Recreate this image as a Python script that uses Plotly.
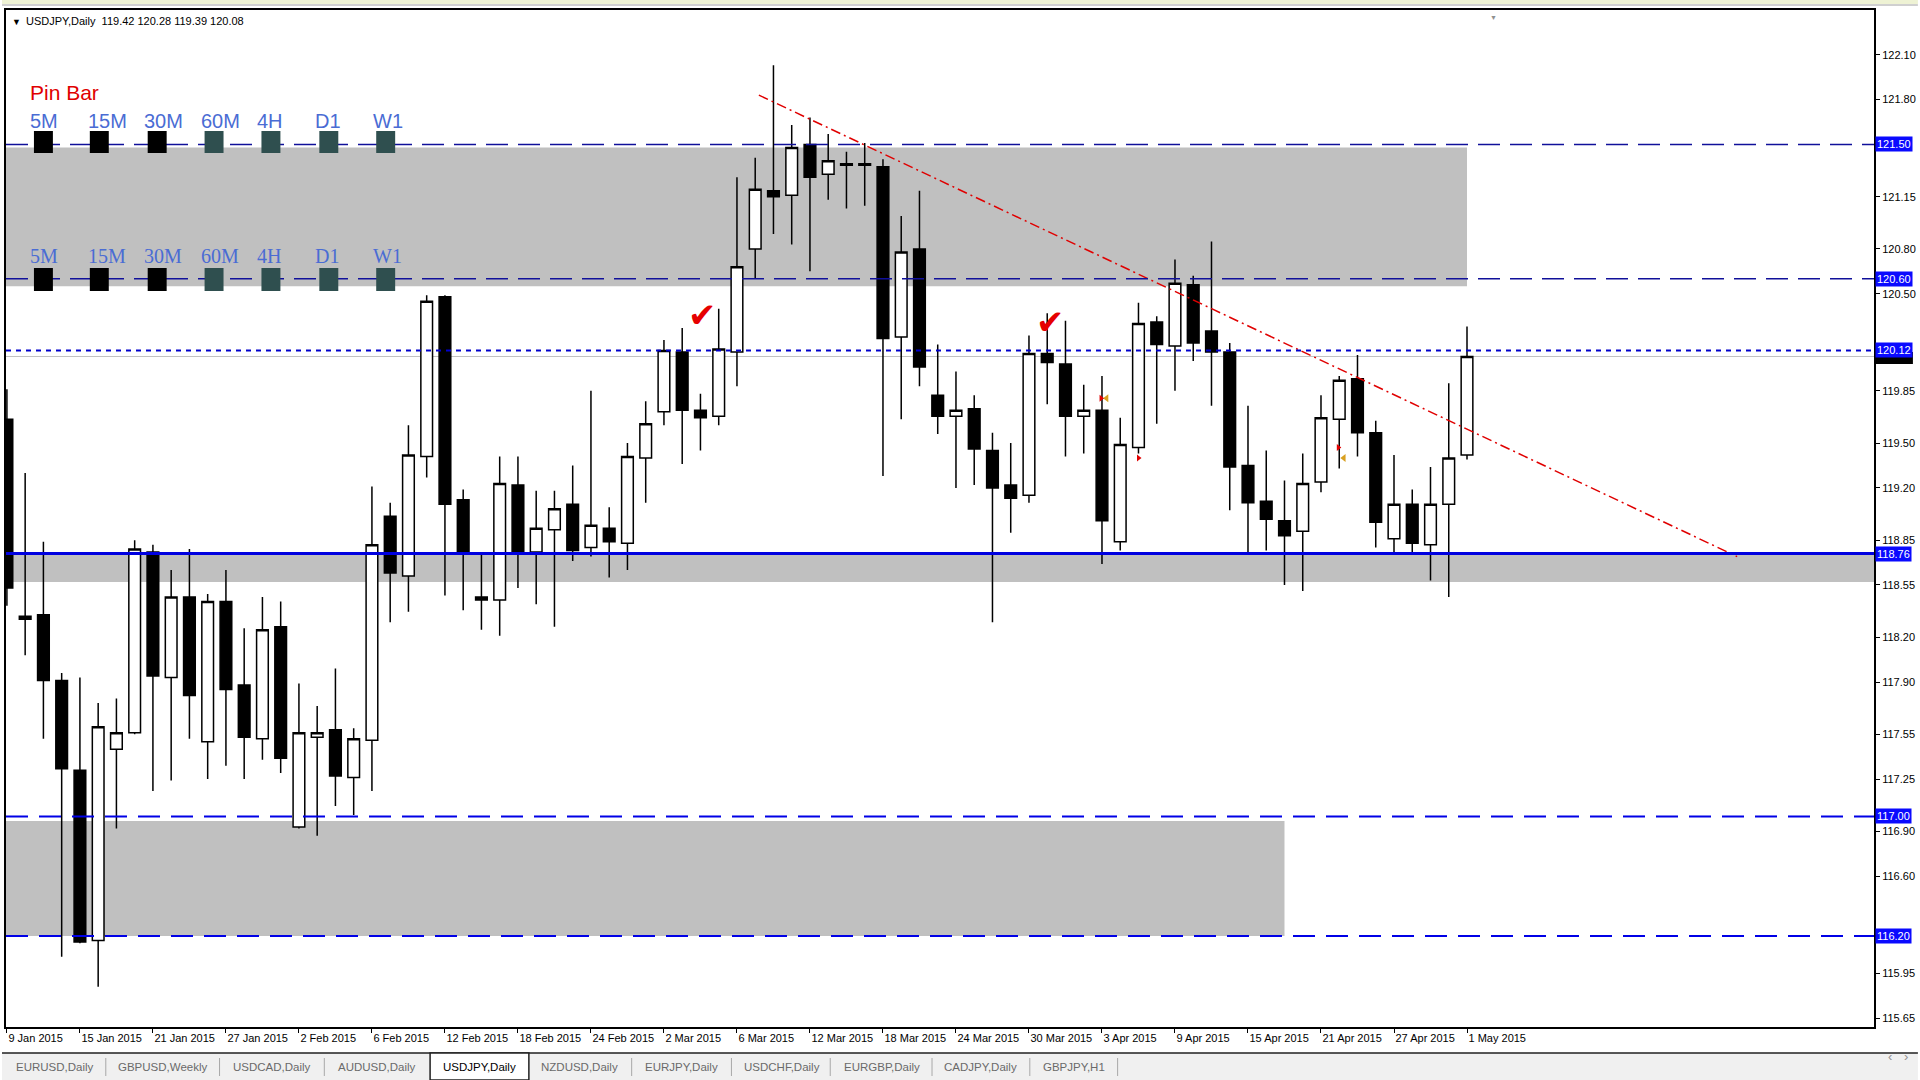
import plotly.graph_objects as go
import pandas as pd

# ---------------- data ----------------
dates = pd.bdate_range("2015-01-09", "2015-05-01")
date_labels = [f"{d.day} {d.strftime('%b %Y')}" for d in dates]

opens = [119.66, 118.34, 118.35, 117.91, 117.31, 116.17, 117.45, 117.56, 118.77, 117.93,
         118.47, 117.50, 118.44, 117.88, 117.52, 118.27, 116.93, 117.53, 117.58, 117.26,
         117.51, 119.01, 118.61, 119.41, 120.48, 119.12, 118.47, 118.45, 119.22, 118.77,
         118.92, 119.09, 118.80, 118.93, 118.83, 119.40, 119.71, 120.11, 119.72, 119.68,
         120.11, 120.80, 121.19, 121.16, 121.50, 121.30, 121.37, 121.37, 121.35, 120.21,
         120.80, 119.82, 119.68, 119.73, 119.45, 119.22, 119.15, 120.10, 120.03, 119.68,
         119.72, 118.84, 119.47, 120.31, 120.15, 120.56, 120.25, 120.11, 119.35, 119.11,
         118.98, 118.91, 119.24, 119.66, 119.93, 119.57, 118.86, 119.09, 118.82, 119.09,
         119.42]
highs = [119.86, 119.30, 118.84, 117.96, 117.93, 117.76, 117.79, 118.85, 118.82, 118.65,
         118.79, 118.49, 118.65, 118.26, 118.47, 118.44, 117.89, 117.74, 117.99, 117.59,
         119.21, 119.10, 119.62, 120.49, 120.49, 119.19, 118.76, 119.41, 119.41, 119.18,
         119.18, 119.35, 119.85, 119.07, 119.50, 119.78, 120.19, 120.27, 119.83, 120.40,
         121.28, 121.41, 122.03, 121.63, 121.68, 121.57, 121.45, 121.51, 121.40, 121.02,
         121.19, 120.16, 119.98, 119.82, 119.57, 119.50, 120.22, 120.37, 120.32, 119.89,
         119.95, 119.67, 120.44, 120.35, 120.73, 120.62, 120.85, 120.17, 119.75, 119.45,
         119.25, 119.43, 119.82, 119.95, 120.09, 119.65, 119.42, 119.19, 119.34, 119.90,
         120.28]
lows = [118.41, 118.08, 117.52, 116.06, 116.15, 115.86, 116.92, 117.55, 117.17, 117.24,
        117.52, 117.25, 117.34, 117.25, 117.38, 117.29, 116.92, 116.87, 117.07, 117.01,
        117.17, 118.30, 118.37, 119.27, 118.48, 118.38, 118.25, 118.21, 118.53, 118.42,
        118.27, 118.71, 118.74, 118.60, 118.65, 119.10, 119.62, 119.36, 119.45, 119.62,
        119.88, 120.60, 120.90, 120.83, 120.65, 121.13, 121.07, 121.09, 119.28, 119.66,
        119.88, 119.56, 119.20, 119.22, 118.30, 118.90, 119.10, 119.76, 119.41, 119.43,
        118.69, 118.78, 119.43, 119.63, 119.85, 120.05, 119.75, 119.05, 118.76, 118.78,
        118.55, 118.51, 119.17, 119.33, 119.41, 118.80, 118.76, 118.76, 118.58, 118.47,
        119.39]
closes = [118.53, 118.32, 117.91, 117.32, 116.16, 117.60, 117.56, 118.79, 117.94, 118.47,
          117.81, 118.44, 117.85, 117.53, 118.25, 117.39, 117.56, 117.56, 117.27, 117.52,
          118.82, 118.63, 119.42, 120.45, 119.09, 118.77, 118.45, 119.23, 118.76, 118.93,
          119.06, 118.78, 118.95, 118.84, 119.41, 119.63, 120.12, 119.72, 119.67, 120.13,
          120.68, 121.20, 121.15, 121.48, 121.28, 121.39, 121.36, 121.36, 120.20, 120.78,
          120.01, 119.68, 119.72, 119.46, 119.20, 119.13, 120.10, 120.04, 119.68, 119.72,
          118.98, 119.49, 120.30, 120.16, 120.57, 120.17, 120.11, 119.34, 119.10, 118.99,
          118.88, 119.23, 119.67, 119.92, 119.57, 118.97, 119.09, 118.83, 119.09, 119.40,
          120.08]

tick_dates = ["9 Jan 2015", "15 Jan 2015", "21 Jan 2015", "27 Jan 2015", "2 Feb 2015",
              "6 Feb 2015", "12 Feb 2015", "18 Feb 2015", "24 Feb 2015", "2 Mar 2015",
              "6 Mar 2015", "12 Mar 2015", "18 Mar 2015", "24 Mar 2015", "30 Mar 2015",
              "3 Apr 2015", "9 Apr 2015", "15 Apr 2015", "21 Apr 2015", "27 Apr 2015",
              "1 May 2015"]
price_ticks = [122.10, 121.80, 121.15, 120.80, 120.50, 119.85, 119.50,
               119.20, 118.85, 118.55, 118.20, 117.90, 117.55, 117.25, 116.90, 116.60,
               115.95, 115.65]

# horizontal levels drawn on the chart
level_prices = [121.50, 120.60, 120.12, 118.76, 117.00, 116.20]
bid_price = 120.08

# shaded zones (top price, bottom price, last bar covered)
zone_tops = [121.48, 118.76, 116.97]
zone_bottoms = [120.55, 118.57, 116.20]
zone_end_bars = [80.0, 200.0, 70.0]

# red trend line anchors (bar position, price)
trend_bars = [41.2, 94.8]
trend_prices = [121.83, 118.74]

# red check marks (bar position, price)
check_bars = [38.1, 57.2]
check_prices = [120.36, 120.31]

# small signal arrows
sig_orange_bars = [60.25, 73.25]
sig_orange_prices = [119.80, 119.40]
sig_red_bars = [59.95, 72.95, 62.0]
sig_red_prices = [119.80, 119.47, 119.40]

tf_labels = ["5M", "15M", "30M", "60M", "4H", "D1", "W1"]
tabs = ["EURUSD,Daily", "GBPUSD,Weekly", "USDCAD,Daily", "AUDUSD,Daily", "USDJPY,Daily",
        "NZDUSD,Daily", "EURJPY,Daily", "USDCHF,Daily", "EURGBP,Daily", "CADJPY,Daily",
        "GBPJPY,H1"]
active_tab = "USDJPY,Daily"

# ---------------- layout helpers ----------------
W, H = 1920, 1080
PL, PR, PT, PB = 4, 1876, 10, 1027
SANS = "Liberation Sans, Arial, sans-serif"
SERIF = "Liberation Serif, Times New Roman, serif"


def fx(x):
    return (x - PL) / (PR - PL)


def fy(y):
    return 1 - (y - PT) / (PB - PT)


xs = list(range(len(dates)))
tickvals = [date_labels.index(t) for t in tick_dates]

fig = go.Figure()
fig.add_trace(go.Candlestick(
    x=xs, open=opens, high=highs, low=lows, close=closes,
    increasing=dict(line=dict(color="black", width=1.5), fillcolor="white"),
    decreasing=dict(line=dict(color="black", width=1.5), fillcolor="black"),
    whiskerwidth=0, showlegend=False, hoverinfo="skip",
))
fig.add_trace(go.Scatter(
    x=trend_bars, y=trend_prices, mode="lines",
    line=dict(color="#e00000", width=1.5, dash="10px,4px,2px,4px"),
    showlegend=False, hoverinfo="skip",
))
fig.add_trace(go.Scatter(
    x=sig_orange_bars, y=sig_orange_prices, mode="markers",
    marker=dict(symbol="triangle-left", size=7, color="#d9a020"),
    showlegend=False, hoverinfo="skip",
))
fig.add_trace(go.Scatter(
    x=sig_red_bars, y=sig_red_prices, mode="markers",
    marker=dict(symbol="triangle-right", size=6, color="#e00000"),
    showlegend=False, hoverinfo="skip",
))

shapes = []
# window strip at top
shapes.append(dict(type="rect", xref="paper", yref="paper", x0=fx(0), x1=fx(W),
                   y0=fy(0), y1=fy(4), fillcolor="#eef2d4", line=dict(width=0)))
shapes.append(dict(type="line", xref="paper", yref="paper", x0=fx(0), x1=fx(W),
                   y0=fy(5), y1=fy(5), line=dict(color="#a0a0a0", width=1)))
# zones
for top, bot, end in zip(zone_tops, zone_bottoms, zone_end_bars):
    shapes.append(dict(type="rect", xref="x", yref="y", x0=-5, x1=end, y0=bot, y1=top,
                       fillcolor="#c0c0c0", line=dict(width=0), layer="below"))
# bid line
shapes.append(dict(type="line", xref="paper", yref="y", x0=0, x1=1, y0=bid_price,
                   y1=bid_price, line=dict(color="#c0c0c0", width=1), layer="below"))
# levels
level_styles = [
    dict(color="#10109a", width=1.5, dash="22px,10px"),
    dict(color="#10109a", width=1.5, dash="22px,10px"),
    dict(color="#0000cc", width=2, dash="5px,5px"),
    dict(color="#0000e0", width=3),
    dict(color="#0000e6", width=2, dash="22px,11px"),
    dict(color="#0000e6", width=2, dash="22px,11px"),
]
for p, st in zip(level_prices, level_styles):
    shapes.append(dict(type="line", xref="paper", yref="y", x0=0, x1=1, y0=p, y1=p,
                       line=st, layer="above"))
# bid price marker on the axis (mostly hidden behind the 120.12 box)
shapes.append(dict(type="rect", xref="paper", yref="paper", x0=fx(1877), x1=fx(1915),
                   y0=fy(364), y1=fy(352), fillcolor="black", line=dict(width=0)))
# indicator squares
sq_lefts = [32, 88, 146, 203, 260, 318, 375]
for row_top, row_bot in [(131, 153), (268, 291)]:
    for k, lx in enumerate(sq_lefts):
        shapes.append(dict(type="rect", xref="paper", yref="paper", x0=fx(lx), x1=fx(lx + 19),
                           y0=fy(row_bot), y1=fy(row_top),
                           fillcolor="#000000" if k < 3 else "#2f4f4f",
                           line=dict(width=0), layer="above"))
# tab bar
shapes.append(dict(type="rect", xref="paper", yref="paper", x0=fx(0), x1=fx(W),
                   y0=fy(H), y1=fy(1053), fillcolor="#f0f0f0", line=dict(width=0)))
shapes.append(dict(type="line", xref="paper", yref="paper", x0=fx(0), x1=fx(W),
                   y0=fy(1053), y1=fy(1053), line=dict(color="#202020", width=1.5)))
shapes.append(dict(type="rect", xref="paper", yref="paper", x0=fx(429), x1=fx(528),
                   y0=fy(H), y1=fy(1053), fillcolor="white",
                   line=dict(color="#202020", width=1.5)))
for sx in [104, 218, 323, 631, 731, 830, 932, 1030, 1118]:
    shapes.append(dict(type="line", xref="paper", yref="paper", x0=fx(sx), x1=fx(sx),
                       y0=fy(1076), y1=fy(1058), line=dict(color="#a8a8a8", width=1)))

annotations = []
# header
annotations.append(dict(xref="paper", yref="paper", x=fx(8), y=fy(22), xanchor="left",
                        yanchor="middle", showarrow=False, text="▼",
                        font=dict(family=SANS, size=9, color="black")))
annotations.append(dict(xref="paper", yref="paper", x=fx(22), y=fy(21), xanchor="left",
                        yanchor="middle", showarrow=False,
                        text="USDJPY,Daily\u00a0\u00a0%.2f %.2f %.2f %.2f" % (
                            opens[-1], highs[-1], lows[-1], closes[-1]),
                        font=dict(family=SANS, size=11, color="black")))
# Pin Bar panel
annotations.append(dict(xref="paper", yref="paper", x=fx(26), y=fy(93), xanchor="left",
                        yanchor="middle", showarrow=False, text="Pin Bar",
                        font=dict(family=SANS, size=21, color="#e00000")))
lbl_lefts = [29, 87, 143, 200, 257, 315, 373]
for lx, t in zip(lbl_lefts, tf_labels):
    annotations.append(dict(xref="paper", yref="paper", x=fx(lx - 3), y=fy(121),
                            xanchor="left", yanchor="middle", showarrow=False, text=t,
                            font=dict(family=SANS, size=20, color="#4a6cd4")))
    annotations.append(dict(xref="paper", yref="paper", x=fx(lx - 3), y=fy(256),
                            xanchor="left", yanchor="middle", showarrow=False, text=t,
                            font=dict(family=SERIF, size=20, color="#4a6cd4")))
# check marks
for b, p in zip(check_bars, check_prices):
    annotations.append(dict(xref="x", yref="y", x=b, y=p, showarrow=False, text="✔",
                            font=dict(family="DejaVu Sans", size=34, color="#e60000")))
# shift marker
annotations.append(dict(xref="paper", yref="paper", x=fx(1500), y=fy(12), showarrow=False,
                        text="▼", font=dict(family=SANS, size=7, color="#909090")))
# price boxes on axis
for p in level_prices:
    annotations.append(dict(xref="paper", yref="y", x=1, xshift=1, y=p, xanchor="left",
                            yanchor="middle", showarrow=False, text="%.2f" % p,
                            bgcolor="#0a0aff", borderpad=1,
                            font=dict(family=SANS, size=11, color="white")))
# tabs
tab_centers = [52.7, 161.6, 270.6, 375.9, 478.8, 579.2, 680.8, 781.2, 881.6, 980.8, 1073.9]
for cx, t in zip(tab_centers, tabs):
    annotations.append(dict(xref="paper", yref="paper", x=fx(cx), y=fy(1067),
                            xanchor="center", yanchor="middle", showarrow=False, text=t,
                            font=dict(family=SANS, size=11.5,
                                      color="black" if t == active_tab else "#6a6a6a")))
for cx, t in [(1896, "‹"), (1912, "›")]:
    annotations.append(dict(xref="paper", yref="paper", x=fx(cx), y=fy(1066),
                            showarrow=False, text=t,
                            font=dict(family=SANS, size=13, color="#909090")))

fig.update_layout(
    width=W, height=H,
    margin=dict(l=PL, r=W - PR, t=PT, b=H - PB, pad=0),
    paper_bgcolor="white", plot_bgcolor="white",
    showlegend=False, hovermode=False,
    boxgap=0.36, boxgroupgap=0,
    shapes=shapes, annotations=annotations,
    xaxis=dict(
        range=[-0.05, 102.3], rangeslider=dict(visible=False),
        tickvals=tickvals, ticktext=tick_dates,
        ticks="outside", ticklen=4, tickcolor="black", tickwidth=1,
        ticklabelposition="outside right",
        tickfont=dict(family=SANS, size=11, color="black"),
        showgrid=False, zeroline=False,
        showline=True, linecolor="black", linewidth=2, mirror=True,
    ),
    yaxis=dict(
        side="right", range=[115.59, 122.40],
        tickvals=price_ticks, ticktext=["%.2f" % v for v in price_ticks],
        ticks="outside", ticklen=4, tickcolor="black", tickwidth=1,
        tickfont=dict(family=SANS, size=11, color="black"),
        showgrid=False, zeroline=False,
        showline=True, linecolor="black", linewidth=2, mirror=True,
    ),
)

fig.write_html("out.html")
